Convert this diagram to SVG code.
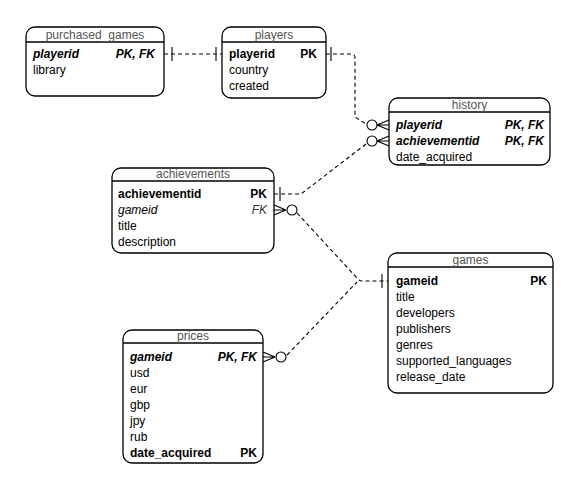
<svg xmlns="http://www.w3.org/2000/svg" width="577" height="490" viewBox="0 0 577 490">
<style>
.box{fill:#fff;stroke:#000;stroke-width:1.3}
.hl{stroke:#000;stroke-width:1.3}
.title{font-family:"Liberation Sans",Arial,sans-serif;font-size:12px;fill:#555;text-anchor:middle}
.t{font-family:"Liberation Sans",Arial,sans-serif;font-size:12px;fill:#000}
.b{font-weight:bold}
.i{font-style:italic}
.r{text-anchor:end}
.c{fill:none;stroke:#000;stroke-width:1.1;stroke-dasharray:4 3}
.m{fill:none;stroke:#000;stroke-width:1.1}
.o{fill:#fff;stroke:#000;stroke-width:1.1}
</style>
<rect width="577" height="490" fill="#fff"/>
<g id="connectors">
  <path class="c" d="M164,54 H222"/>
  <path class="m" d="M172,47 V61 M216,47 V61"/>
  <path class="c" d="M326,54 H351 Q355,54 355,58 V117 L366,124"/>
  <path class="m" d="M331,47 V61"/>
  <path class="m" d="M377,125 L389,120 M377,125 L389,130 M377,125 H389"/>
  <circle class="o" cx="372" cy="125" r="5"/>
  <path class="c" d="M274,194 H301 L366,144"/>
  <path class="m" d="M280,187 V201"/>
  <path class="m" d="M377,141 L389,136 M377,141 L389,146 M377,141 H389"/>
  <circle class="o" cx="372" cy="141" r="5"/>
  <path class="c" d="M297,213 L357,278 Q359,281 362,281 H388"/>
  <path class="m" d="M382,274 V288"/>
  <path class="m" d="M286,210 L274,205 M286,210 L274,215 M286,210 H274"/>
  <circle class="o" cx="292" cy="210" r="5"/>
  <path class="c" d="M287,355 L357,282"/>
  <path class="m" d="M275,357 L263,352 M275,357 L263,362 M275,357 H263"/>
  <circle class="o" cx="281" cy="357" r="5"/>
</g>
<g id="purchased_games">
  <rect class="box" x="26" y="27" width="138" height="69" rx="9"/>
  <line class="hl" x1="26" y1="42" x2="164" y2="42"/>
  <text class="title" x="95" y="39">purchased_games</text>
  <text class="t b i" x="33" y="58">playerid</text>
  <text class="t b i r" x="155" y="58">PK, FK</text>
  <text class="t" x="33" y="74">library</text>
</g>
<g id="players">
  <rect class="box" x="222" y="27" width="104" height="71" rx="9"/>
  <line class="hl" x1="222" y1="42" x2="326" y2="42"/>
  <text class="title" x="274" y="39">players</text>
  <text class="t b" x="229" y="58">playerid</text>
  <text class="t b r" x="317" y="58">PK</text>
  <text class="t" x="229" y="74">country</text>
  <text class="t" x="229" y="90">created</text>
</g>
<g id="history">
  <rect class="box" x="389" y="98" width="161" height="67" rx="9"/>
  <line class="hl" x1="389" y1="112" x2="550" y2="112"/>
  <text class="title" x="469.5" y="109">history</text>
  <text class="t b i" x="396" y="129">playerid</text>
  <text class="t b i r" x="544" y="129">PK, FK</text>
  <text class="t b i" x="396" y="145">achievementid</text>
  <text class="t b i r" x="544" y="145">PK, FK</text>
  <text class="t" x="396" y="161">date_acquired</text>
</g>
<g id="achievements">
  <rect class="box" x="112" y="168" width="162" height="85" rx="9"/>
  <line class="hl" x1="112" y1="181" x2="274" y2="181"/>
  <text class="title" x="193" y="178">achievements</text>
  <text class="t b" x="118" y="198">achievementid</text>
  <text class="t b r" x="267" y="198">PK</text>
  <text class="t i" x="118" y="214">gameid</text>
  <text class="t i r" x="267" y="214" style="fill:#333">FK</text>
  <text class="t" x="118" y="230">title</text>
  <text class="t" x="118" y="246">description</text>
</g>
<g id="games">
  <rect class="box" x="388" y="253" width="165" height="140" rx="9"/>
  <line class="hl" x1="388" y1="267" x2="553" y2="267"/>
  <text class="title" x="470.5" y="264">games</text>
  <text class="t b" x="396" y="285">gameid</text>
  <text class="t b r" x="547" y="285">PK</text>
  <text class="t" x="396" y="301">title</text>
  <text class="t" x="396" y="317">developers</text>
  <text class="t" x="396" y="333">publishers</text>
  <text class="t" x="396" y="349">genres</text>
  <text class="t" x="396" y="365">supported_languages</text>
  <text class="t" x="396" y="381">release_date</text>
</g>
<g id="prices">
  <rect class="box" x="123" y="330" width="140" height="133" rx="9"/>
  <line class="hl" x1="123" y1="343" x2="263" y2="343"/>
  <text class="title" x="193" y="340">prices</text>
  <text class="t b i" x="130" y="361">gameid</text>
  <text class="t b i r" x="257" y="361">PK, FK</text>
  <text class="t" x="130" y="377">usd</text>
  <text class="t" x="130" y="393">eur</text>
  <text class="t" x="130" y="409">gbp</text>
  <text class="t" x="130" y="425">jpy</text>
  <text class="t" x="130" y="441">rub</text>
  <text class="t b" x="130" y="457">date_acquired</text>
  <text class="t b r" x="257" y="457">PK</text>
</g>
</svg>
